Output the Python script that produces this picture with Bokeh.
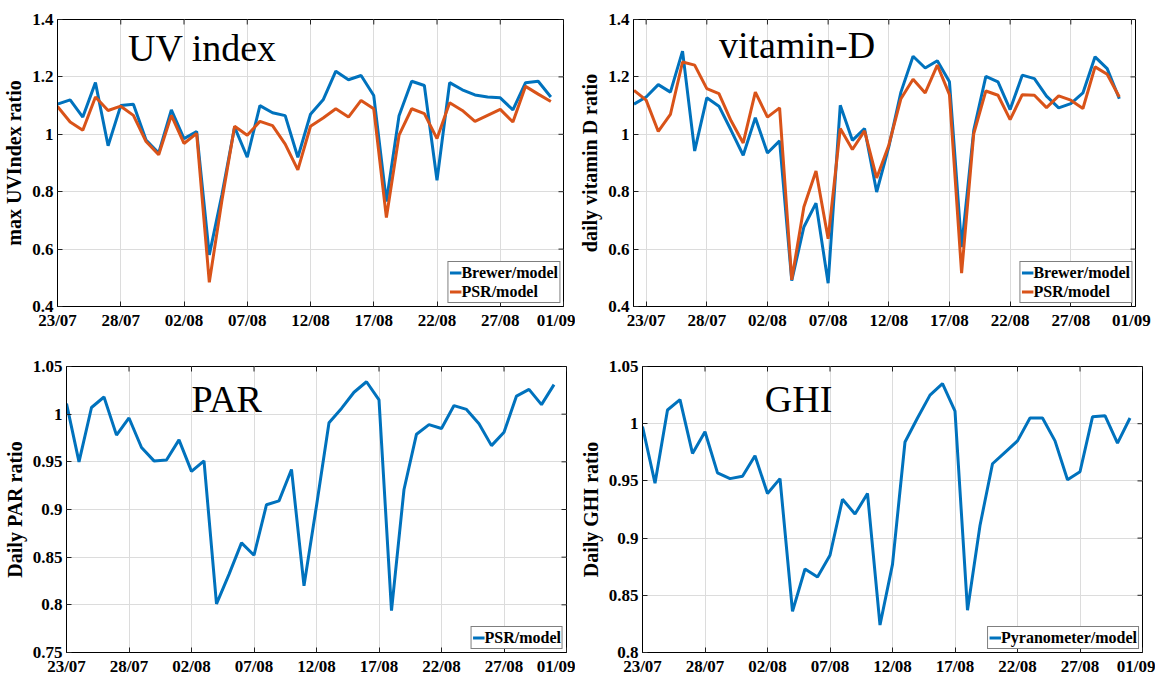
import math
import pandas as pd
from bokeh.plotting import figure
from bokeh.layouts import column, row
from bokeh.models import (FixedTicker, CustomJSTickFormatter, Label, Legend,
                          LegendItem, Range1d)
from bokeh.embed import file_html
from bokeh.resources import INLINE

YEAR = 2021
x_tick_labels = ["23/07", "28/07", "02/08", "07/08", "12/08", "17/08", "22/08", "27/08", "01/09"]

# UV index panel (daily from 23/07)
uv_start = "2021-07-23"
uv_brewer = [1.105, 1.12, 1.06, 1.18, 0.96, 1.10, 1.105, 0.98, 0.935, 1.085,
             0.985, 1.01, 0.58, 0.79, 1.025, 0.92, 1.10, 1.075, 1.065, 0.92,
             1.07, 1.12, 1.22, 1.19, 1.205, 1.135, 0.766, 1.065, 1.185, 1.17,
             0.84, 1.18, 1.155, 1.137, 1.13, 1.127, 1.085, 1.18, 1.185, 1.13]
uv_psr = [1.097, 1.043, 1.014, 1.13, 1.083, 1.098, 1.066, 0.975, 0.929, 1.066,
          0.968, 1.003, 0.484, 0.77, 1.028, 0.997, 1.045, 1.03, 0.966, 0.876,
          1.028, 1.057, 1.089, 1.06, 1.118, 1.089, 0.71, 0.997, 1.089, 1.072,
          0.985, 1.11, 1.083, 1.045, 1.066, 1.087, 1.043, 1.167, 1.14, 1.114]

# vitamin-D panel (daily from 22/07)
vd_start = "2021-07-22"
vd_brewer = [1.105, 1.13, 1.173, 1.147, 1.29, 0.942, 1.127, 1.098, 1.014, 0.927,
             1.058, 0.935, 0.977, 0.49, 0.677, 0.76, 0.481, 1.101, 0.979, 1.02,
             0.799, 0.956, 1.147, 1.272, 1.231, 1.256, 1.183, 0.607, 1.014, 1.202,
             1.183, 1.086, 1.206, 1.194, 1.133, 1.092, 1.107, 1.144, 1.27, 1.229, 1.124]
vd_psr = [1.153, 1.119, 1.01, 1.069, 1.252, 1.241, 1.159, 1.142, 1.047, 0.970,
          1.147, 1.06, 1.092, 0.493, 0.747, 0.872, 0.636, 1.02, 0.947, 1.012,
          0.848, 0.962, 1.124, 1.192, 1.144, 1.241, 1.138, 0.516, 1.002, 1.151,
          1.136, 1.051, 1.138, 1.136, 1.093, 1.134, 1.119, 1.09, 1.235, 1.209, 1.13]

# PAR panel (daily from 23/07)
par_start = "2021-07-23"
par_psr = [1.011, 0.950, 1.007, 1.018, 0.978, 0.996, 0.965, 0.951, 0.952, 0.973,
           0.940, 0.951, 0.801, 0.832, 0.865, 0.852, 0.905, 0.909, 0.942, 0.820,
           0.904, 0.991, 1.006, 1.023, 1.034, 1.015, 0.794, 0.921, 0.979, 0.989,
           0.985, 1.009, 1.005, 0.990, 0.967, 0.981, 1.019, 1.026, 1.010, 1.031]

# GHI panel (daily from 23/07)
ghi_start = "2021-07-23"
ghi_pyr = [0.9975, 0.948, 1.012, 1.021, 0.974, 0.993, 0.957, 0.952, 0.954, 0.972,
           0.939, 0.952, 0.836, 0.873, 0.866, 0.885, 0.934, 0.921, 0.939, 0.824,
           0.877, 0.984, 1.005, 1.025, 1.035, 1.011, 0.837, 0.911, 0.965, 0.975,
           0.985, 1.005, 1.005, 0.985, 0.951, 0.958, 1.006, 1.007, 0.983, 1.005]

uv_yticks = [0.4, 0.6, 0.8, 1.0, 1.2, 1.4]
par_yticks = [0.75, 0.8, 0.85, 0.9, 0.95, 1.0, 1.05]
ghi_yticks = [0.8, 0.85, 0.9, 0.95, 1.0, 1.05]

BLUE = "#0072BD"
ORANGE = "#D95319"
SERIF = "Liberation Serif"


def to_dt(lab):
    return pd.to_datetime(f"{lab}/{YEAR}", format="%d/%m/%Y")


x_tick_dates = [to_dt(l) for l in x_tick_labels]
x_ticks = [d.value // 10**6 for d in x_tick_dates]

xfmt = CustomJSTickFormatter(code="""
const d = new Date(tick);
return String(d.getUTCDate()).padStart(2,'0') + '/' + String(d.getUTCMonth()+1).padStart(2,'0');
""")
yfmt = CustomJSTickFormatter(code="return Number(tick.toFixed(2)).toString();")


def style_axis(ax):
    ax.major_label_text_font = SERIF
    ax.major_label_text_font_style = "bold"
    ax.major_label_text_font_size = "17px"
    ax.major_label_text_color = "black"
    ax.axis_label_text_font = SERIF
    ax.axis_label_text_font_style = "bold"
    ax.axis_label_text_font_size = "20px"
    ax.axis_label_text_color = "black"
    ax.major_tick_in = 5
    ax.major_tick_out = 0
    ax.minor_tick_line_color = None
    ax.axis_line_color = "black"
    ax.major_tick_line_color = "#222222"


def panel(width, height, borders, xrange_, yticks, ylabel, series, title, title_pos):
    l, r, t, b = borders
    p = figure(width=width, height=height, x_axis_type="datetime",
               output_backend="svg", toolbar_location=None,
               min_border_left=l, min_border_right=r, min_border_top=t,
               min_border_bottom=b)
    x0, x1 = pd.Timestamp(xrange_[0]), pd.Timestamp(xrange_[1])
    p.x_range = Range1d(x0, x1)
    p.y_range = Range1d(yticks[0], yticks[-1])
    p.xaxis.ticker = FixedTicker(ticks=x_ticks)
    p.xaxis.formatter = xfmt
    p.yaxis.ticker = FixedTicker(ticks=yticks)
    p.yaxis.formatter = yfmt
    p.yaxis.axis_label = ylabel
    style_axis(p.xaxis[0])
    style_axis(p.yaxis[0])
    p.xaxis.major_label_standoff = 4
    p.yaxis.major_label_standoff = 4
    p.yaxis.axis_label_standoff = 4

    p.outline_line_color = "black"
    p.outline_line_alpha = 1.0
    p.outline_line_width = 1
    p.grid.grid_line_color = "#dcdcdc"
    p.grid.grid_line_width = 1

    # inward tick marks on the top and right edges (half of each dash is clipped by the frame)
    top_x = [d for d in x_tick_dates if x0 <= d <= x1]
    p.scatter(top_x, [yticks[-1]] * len(top_x), marker="dash", size=10,
              angle=math.pi / 2, line_color="#222222", line_width=1)
    p.scatter([x1] * len(yticks), yticks, marker="dash", size=10,
              line_color="#222222", line_width=1)

    items = []
    for start, vals, color, name in series:
        xs = pd.date_range(start, periods=len(vals), freq="D")
        r_ = p.line(xs, vals, line_color=color, line_width=3)
        items.append(LegendItem(label=name, renderers=[r_]))
    leg = Legend(items=items, location="bottom_right")
    leg.label_text_font = SERIF
    leg.label_text_font_style = "bold"
    leg.label_text_font_size = "16px"
    leg.label_text_color = "black"
    leg.glyph_width = 12
    leg.glyph_height = 19
    leg.label_height = 19
    leg.label_standoff = 0
    leg.spacing = 0
    leg.padding = 1
    leg.margin = 3
    leg.border_line_color = "black"
    leg.border_line_width = 1
    leg.background_fill_alpha = 1.0
    p.add_layout(leg)

    p.add_layout(Label(x=pd.Timestamp(title_pos[0]), y=title_pos[1], text=title,
                       text_font=SERIF, text_font_size="38px",
                       text_baseline="alphabetic", text_color="black"))
    return p


p1 = panel(575, 336, (57, 12, 17, 30), ("2021-07-23", "2021-09-01"), uv_yticks,
           "max UVIndex ratio",
           [(uv_start, uv_brewer, BLUE, "Brewer/model"), (uv_start, uv_psr, ORANGE, "PSR/model")],
           "UV index", ("2021-07-28 13:40", 1.30))
p2 = panel(580, 336, (58, 20, 19, 30), ("2021-07-21 23:00", "2021-09-01 08:00"), uv_yticks,
           "daily vitamin D ratio",
           [(vd_start, vd_brewer, BLUE, "Brewer/model"), (vd_start, vd_psr, ORANGE, "PSR/model")],
           "vitamin-D", ("2021-07-29 00:00", 1.312))
p3 = panel(575, 342, (66, 9, 30, 23), ("2021-07-23", "2021-09-01"), par_yticks,
           "Daily PAR ratio",
           [(par_start, par_psr, BLUE, "PSR/model")],
           "PAR", ("2021-08-02 00:00", 1.0155))
p4 = panel(580, 342, (67, 13, 30, 23), ("2021-07-23", "2021-09-01"), ghi_yticks,
           "Daily GHI ratio",
           [(ghi_start, ghi_pyr, BLUE, "Pyranometer/model")],
           "GHI", ("2021-08-01 18:45", 1.0215))

layout = column(row(p1, p2), row(p3, p4))
open("out.html", "w").write(file_html(layout, INLINE))
